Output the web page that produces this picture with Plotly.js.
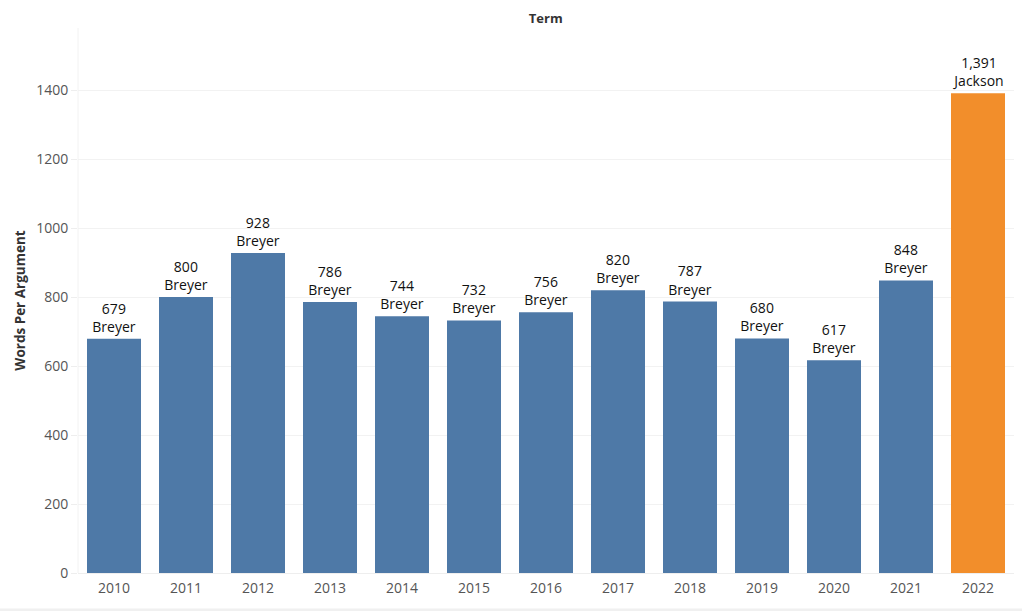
<!DOCTYPE html>
<html>
<head>
<meta charset="utf-8">
<script src="https://cdn.plot.ly/plotly-3.0.1.min.js"></script>
<style>html,body{margin:0;padding:0;background:#fff;}#chart{width:1022px;height:611px;}</style>
</head>
<body>
<div id="chart"></div>
<script>
const terms = ["2010","2011","2012","2013","2014","2015","2016","2017","2018","2019","2020","2021","2022"];
const wordsPerArgument = [679, 800, 928, 786, 744, 732, 756, 820, 787, 680, 617, 848, 1391];
const justices = ["Breyer","Breyer","Breyer","Breyer","Breyer","Breyer","Breyer","Breyer","Breyer","Breyer","Breyer","Breyer","Jackson"];
const yTicks = [0, 200, 400, 600, 800, 1000, 1200, 1400];

const colors = justices.map(j => j === "Jackson" ? "#f28e2b" : "#4e79a7");
const labels = wordsPerArgument.map((v, i) => v.toLocaleString("en-US") + "<br>" + justices[i]);

const trace = {
  type: "bar",
  x: terms,
  y: wordsPerArgument,
  marker: {color: colors, line: {width: 0}},
  text: labels,
  textposition: "outside",
  cliponaxis: false,
  textfont: {family: "Open Sans, sans-serif", size: 14, color: "#111"},
  hoverinfo: "none"
};

const layout = {
  width: 1022,
  height: 611,
  margin: {l: 78, r: 8, t: 28, b: 38},
  paper_bgcolor: "#fff",
  plot_bgcolor: "#fff",
  bargap: 0.25,
  showlegend: false,
  font: {family: "Open Sans, sans-serif"},
  title: {
    text: "<b>Term</b>",
    font: {size: 13, color: "#333"},
    x: 0.534, xanchor: "center",
    y: 0.97, yanchor: "middle"
  },
  xaxis: {
    type: "category",
    tickfont: {size: 14, color: "#555"},
    showgrid: false,
    showline: false,
    ticks: "",
    ticklabelstandoff: 5,
    zeroline: false
  },
  yaxis: {
    range: [0, 1580],
    tickvals: yTicks,
    ticktext: yTicks.map(String),
    tickfont: {size: 14, color: "#555"},
    gridcolor: "#f2f2f2",
    gridwidth: 1,
    zeroline: true,
    zerolinecolor: "#eeeeee",
    showline: false,
    ticks: "outside",
    ticklen: 6,
    tickcolor: "#eeeeee",
    title: {text: "<b>Words Per Argument</b>", font: {size: 13.5, color: "#333"}, standoff: 7}
  },
  shapes: [
    {type: "line", xref: "paper", yref: "paper", x0: 0, x1: 0, y0: 0, y1: 1, line: {color: "#f2f2f2", width: 1}},
    {type: "rect", xref: "paper", yref: "paper", x0: -0.1, x1: 1.01, y0: -0.065, y1: -0.075, fillcolor: "#f0f0f0", line: {width: 0}, layer: "below"}
  ]
};

Plotly.newPlot("chart", [trace], layout, {displayModeBar: false, staticPlot: true});
</script>
</body>
</html>
